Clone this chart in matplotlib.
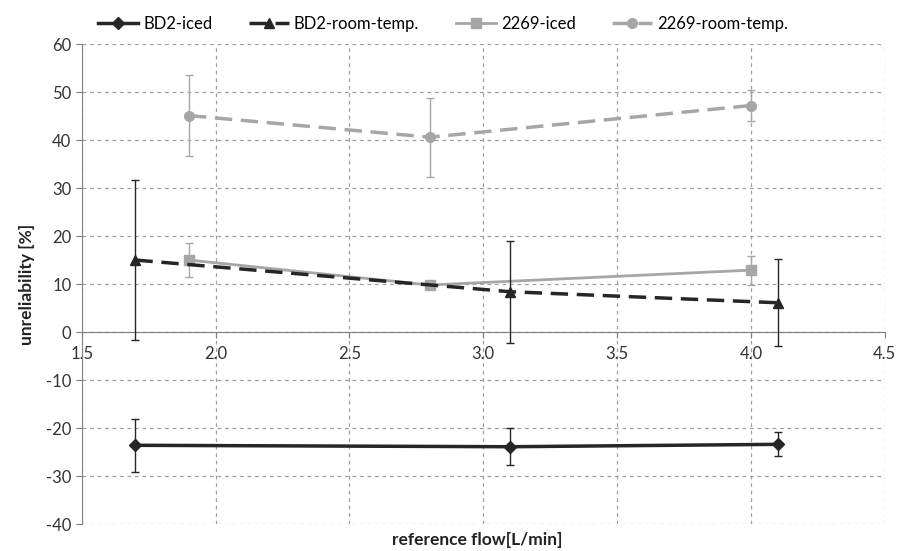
import matplotlib
matplotlib.use("Agg")
import matplotlib.pyplot as plt

plt.rcParams['font.family'] = ['Lato', 'DejaVu Sans']
plt.rcParams['axes.unicode_minus'] = False

# BD2 series
bd2_x = [1.7, 3.1, 4.1]
bd2_iced = [-23.6, -23.9, -23.4]
bd2_iced_err = [5.5, 3.9, 2.5]
bd2_room = [15.0, 8.4, 6.1]
bd2_room_err = [16.7, 10.6, 9.1]

# 2269 series
s2269_x = [1.9, 2.8, 4.0]
s2269_iced = [15.0, 9.8, 12.9]
s2269_iced_err = [3.6, 0.5, 3.0]
s2269_room = [45.1, 40.6, 47.2]
s2269_room_err = [8.5, 8.2, 3.2]

xticks = [1.5, 2.0, 2.5, 3.0, 3.5, 4.0, 4.5]
yticks = [-40, -30, -20, -10, 0, 10, 20, 30, 40, 50, 60]

black = "#262626"
gray = "#A6A6A6"

fig = plt.figure(figsize=(9, 5.51), dpi=100)
ax = fig.add_axes([0.091, 0.049, 0.892, 0.871])

e1 = ax.errorbar(bd2_x, bd2_iced, yerr=bd2_iced_err, color=black, lw=2.5, marker="D", ms=6,
                 ecolor=black, elinewidth=1, capsize=3, label="BD2-iced", zorder=5)
e2 = ax.errorbar(bd2_x, bd2_room, yerr=bd2_room_err, color=black, lw=2.5, ls=(0, (5, 2.5)), marker="^", ms=7,
                 ecolor=black, elinewidth=1, capsize=3, label="BD2-room-temp.", zorder=5)
e3 = ax.errorbar(s2269_x, s2269_iced, yerr=s2269_iced_err, color=gray, lw=2, marker="s", ms=7,
                 ecolor=gray, elinewidth=1, capsize=3, label="2269-iced", zorder=4)
e4 = ax.errorbar(s2269_x, s2269_room, yerr=s2269_room_err, color=gray, lw=2.5, ls=(0, (5, 2.5)), marker="o", ms=7,
                 ecolor=gray, elinewidth=1, capsize=3, label="2269-room-temp.", zorder=4)

ax.set_xlim(1.5, 4.5)
ax.set_ylim(-40, 60)
ax.set_xticks(xticks)
ax.set_xticklabels([f"{t:.1f}" for t in xticks])
ax.set_yticks(yticks)
ax.grid(True, color="#A0A0A0", ls=(0, (3, 3)), lw=0.9)
ax.set_axisbelow(True)

for s in ["top", "right"]:
    ax.spines[s].set_visible(False)
ax.spines["bottom"].set_position(("data", 0))
ax.spines["bottom"].set_color("#808080")
ax.spines["left"].set_color("#808080")
ax.tick_params(axis="both", colors="#808080", labelcolor="#333333", labelsize=12, length=4)
ax.tick_params(axis="x", pad=6)

ax.set_ylabel("unreliability [%]", fontsize=12.5, fontweight="bold", color="#222222", labelpad=8)
fig.text(0.53, 0.02, "reference flow[L/min]", ha="center", va="center",
         fontsize=12.5, fontweight="bold", color="#222222")

handles = [e[0] for e in (e1, e2, e3, e4)]
labels = ["BD2-iced", "BD2-room-temp.", "2269-iced", "2269-room-temp."]
ax.legend(handles, labels, loc="lower center", bbox_to_anchor=(0.45, 1.005), ncol=4, frameon=False,
          fontsize=12, handlelength=2.4, columnspacing=2.2, handletextpad=0.3,
          borderaxespad=0.2)

fig.savefig("out.png", dpi=100)
